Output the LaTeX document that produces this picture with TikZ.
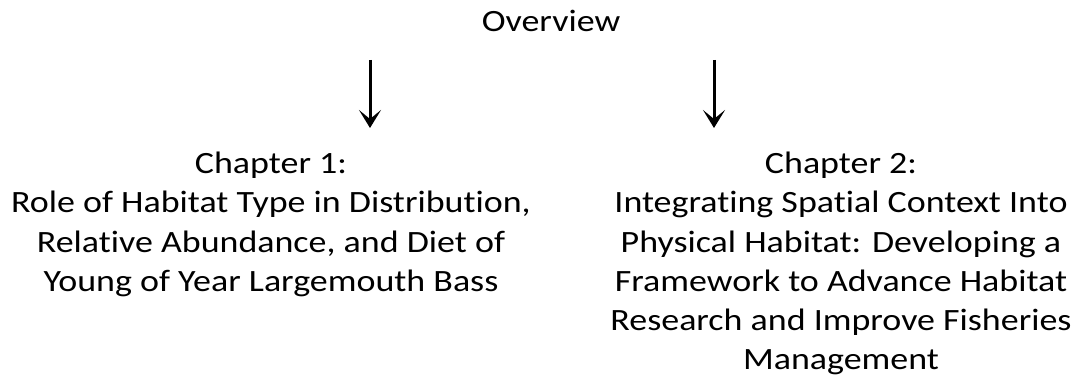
\documentclass[tikz,border=0pt]{standalone}
\usepackage{fontspec}
\setmainfont{Carlito}[FakeStretch=1.16, Ligatures=CommonOff]
\usetikzlibrary{arrows.meta}
\begin{document}
\begin{tikzpicture}[x=1pt,y=-1pt,
  txt/.style={inner sep=0pt, align=center, font=\fontsize{31}{39.2}\selectfont},
  arr/.style={line width=3pt, -{Stealth[length=18pt,width=22pt,inset=9pt]}}]
\useasboundingbox (0,0) rectangle (1077,379);
\node[txt, anchor=base] (ov) at (551,32) {Overview};
\coordinate (a1s) at (370,60);
\coordinate (a1e) at (370,128);
\coordinate (a2s) at (714,60);
\coordinate (a2e) at (714,128);
\draw[arr] (a1s) -- (a1e);
\draw[arr] (a2s) -- (a2e);
\node[txt, anchor=north] (c1) at (271,152) {Chapter 1:\\Role of Habitat Type in Distribution,\\Relative Abundance, and Diet of\\Young of Year Largemouth Bass};
\node[txt, anchor=north] (c2) at (841,152) {Chapter 2:\\Integrating Spatial Context Into\\Physical Habitat: Developing a\\Framework to Advance Habitat\\Research and Improve Fisheries\\Management};
\end{tikzpicture}
\end{document}
